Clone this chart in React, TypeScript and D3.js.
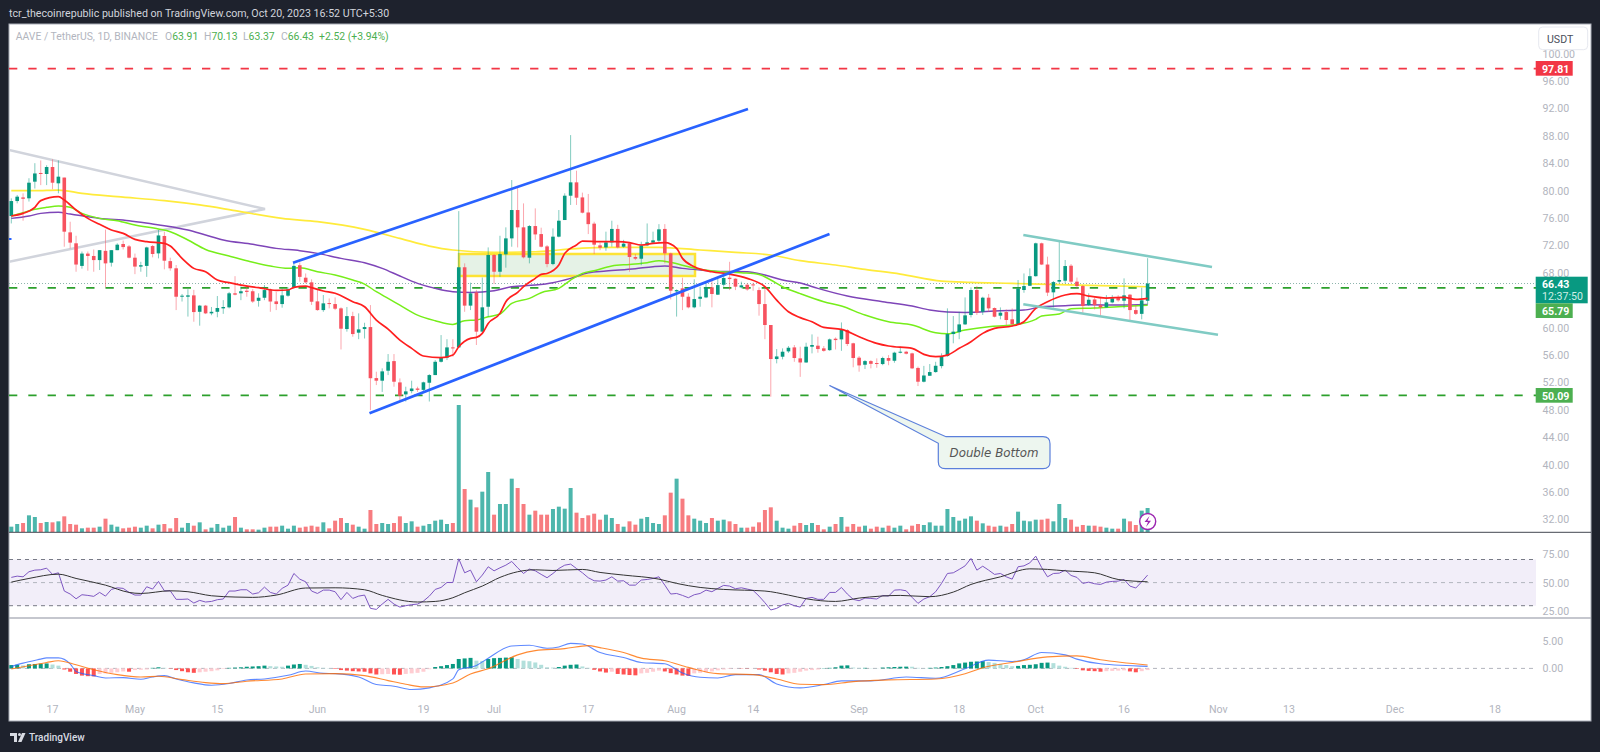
import React, {useRef, useEffect} from 'react';
import * as d3 from 'd3';

const startDay = '2023-04-10';

const opens = [
  76.29,78.47,79.0,78.87,81.3,82.57,82.42,83.44,81.06,81.9,
  73.9,72.3,69.0,70.8,70.45,69.85,71.2,69.47,71.3,72.2,
  71.85,70.2,68.9,69.0,71.9,70.83,73.37,69.7,68.65,64.5,
  64.5,64.7,62.3,63.2,62.07,62.3,62.8,62.95,65.0,65.0,
  65.38,65.3,63.9,64.35,65.57,63.82,63.43,64.65,65.87,69.1,
  67.28,66.6,63.82,62.55,63.58,63.43,62.8,59.78,61.67,59.25,
  59.78,60.07,52.62,52.24,53.7,55.1,51.99,50.24,50.72,51.1,
  50.9,51.94,53.06,55.0,55.6,57.1,57.1,68.8,63.2,65.13,
  59.4,63.04,70.6,68.15,70.69,73.02,77.16,74.63,70.2,74.82,
  73.65,71.85,69.27,73.27,75.7,79.25,81.2,79.0,76.8,75.17,
  72.0,71.7,72.44,74.4,71.8,72.3,70.3,70.05,72.0,72.4,
  72.68,74.4,70.83,65.28,65.72,64.5,62.95,64.2,64.4,65.87,
  64.8,66.25,67.28,67.13,65.87,66.25,66.3,65.47,63.43,60.37,
  55.4,55.74,56.52,57.1,55.5,54.9,57.2,57.35,56.96,56.7,
  58.37,58.27,59.63,57.7,55.6,54.57,55.1,54.82,54.67,55.55,
  55.15,56.33,56.47,56.23,54.1,52.09,52.96,53.5,54.37,55.84,
  59.05,59.33,60.46,61.83,65.48,62.3,64.36,62.85,61.73,62.26,
  61.2,60.5,65.48,66.1,67.5,72.3,69.2,65.14,66.7,66.84,
  69.03,66.7,66.06,63.28,64.1,63.28,62.94,63.67,64.3,63.92,
  64.8,62.55,62.0,63.91,
];
const closes = [
  78.47,79.11,78.8,81.15,82.5,82.42,83.44,81.15,82.03,74.0,
  72.4,69.2,70.8,70.45,69.85,71.3,69.37,71.3,72.1,71.75,
  70.2,68.9,69.1,71.7,70.74,73.45,69.76,68.65,64.5,64.65,
  64.7,62.26,63.2,62.07,62.3,62.85,63.0,65.0,64.8,65.3,
  65.2,63.8,64.35,65.47,63.8,63.43,64.7,65.57,69.0,67.4,
  66.6,63.77,62.55,63.53,63.43,62.75,59.83,61.67,59.05,59.73,
  60.07,52.6,52.24,53.6,55.0,52.09,50.04,50.68,51.1,50.9,
  52.0,53.06,55.0,55.6,57.1,56.96,68.8,63.2,64.99,59.4,
  62.95,70.6,68.15,70.73,73.02,77.16,74.63,70.25,74.82,73.6,
  71.8,69.27,73.27,75.6,79.25,81.2,78.96,76.77,75.1,72.1,
  71.66,72.44,74.4,71.7,72.25,70.3,70.05,72.0,72.44,72.73,
  74.34,70.83,65.38,65.47,64.5,62.95,64.16,64.5,65.87,64.9,
  66.2,67.23,67.08,65.97,66.16,65.57,66.2,63.43,60.37,55.4,
  55.78,56.47,57.05,55.55,54.9,57.2,57.45,56.86,56.6,58.27,
  58.17,59.78,57.6,55.55,54.47,55.1,54.7,54.72,55.55,55.15,
  56.33,56.47,56.18,54.04,52.09,53.0,53.5,54.42,55.84,59.05,
  59.4,60.46,61.78,65.48,62.17,64.36,62.8,61.58,62.17,61.1,
  60.5,65.7,66.06,67.5,72.3,69.2,65.1,66.64,66.94,68.98,
  66.7,66.06,63.14,64.06,63.28,62.94,63.67,64.26,63.97,64.7,
  62.55,62.0,63.97,66.43,
];
const highs = [
  78.87,79.36,79.6,81.8,84.0,84.4,83.7,84.56,84.4,81.9,
  75.45,73.4,71.1,71.1,71.4,71.3,74.3,71.3,72.3,72.7,
  72.05,70.8,69.6,71.8,72.05,74.25,74.0,70.2,69.13,64.9,
  65.6,65.5,63.3,63.3,63.0,64.6,64.0,65.2,67.5,66.0,
  66.0,65.6,65.0,66.2,65.7,65.2,65.7,65.87,69.4,69.5,
  67.9,67.04,65.7,64.75,64.25,64.4,62.95,63.0,62.3,62.07,
  60.7,63.28,53.55,54.04,56.13,56.13,52.57,51.36,52.24,51.36,
  52.1,53.2,55.25,58.9,58.3,58.3,77.0,69.37,66.55,65.5,
  67.3,71.7,70.73,73.4,74.63,81.54,80.57,78.13,74.97,77.4,
  74.58,72.05,74.48,77.16,79.6,88.1,82.9,79.7,79.5,75.45,
  72.4,74.0,75.6,75.0,72.8,72.44,70.73,72.53,75.2,74.0,
  75.1,75.1,70.93,65.57,67.28,65.0,67.04,65.97,66.7,67.18,
  67.18,67.9,69.6,67.18,66.7,66.45,66.55,65.87,65.72,60.37,
  56.86,56.96,57.3,57.45,57.2,57.78,59.0,58.66,57.3,58.4,
  58.56,60.75,59.78,57.78,55.84,55.25,55.25,55.5,55.74,55.98,
  56.47,57.2,56.6,56.33,54.3,54.4,54.67,55.0,56.23,62.8,
  61.68,62.3,64.4,65.87,66.06,64.5,64.9,62.94,62.94,62.65,
  62.8,66.94,67.9,68.64,72.4,72.4,70.35,66.8,72.7,69.86,
  69.27,67.3,66.2,65.0,64.4,64.4,64.74,64.74,64.74,67.18,
  64.9,63.3,65.82,70.13,
];
const lows = [
  75.2,78.14,75.6,78.4,80.3,80.8,80.8,80.2,79.6,71.8,
  71.56,68.15,68.6,68.3,68.15,68.4,65.87,68.9,71.3,71.4,
  70.1,67.8,68.15,67.4,70.25,70.1,68.5,68.3,62.55,63.8,
  61.6,60.85,60.27,61.97,61.8,61.5,62.0,62.8,64.7,64.0,
  64.5,63.6,63.05,64.0,62.3,62.55,62.9,64.5,65.7,66.7,
  66.45,63.3,62.45,62.3,62.8,62.55,56.8,59.4,58.66,58.3,
  58.4,47.95,51.6,50.6,53.06,51.36,49.4,49.2,50.4,50.6,
  50.4,49.2,53.06,54.9,55.25,55.74,57.1,62.3,62.55,57.45,
  59.3,61.6,66.35,67.4,68.74,71.8,71.7,70.1,69.37,72.8,
  71.7,68.8,69.1,73.17,75.7,77.9,77.9,76.67,73.65,70.73,
  71.3,71.2,71.8,71.56,71.66,68.15,69.85,69.1,71.9,72.3,
  72.4,69.37,64.1,61.6,62.55,62.8,62.8,63.04,64.3,62.95,
  64.75,65.97,65.47,65.47,65.72,65.38,65.38,61.73,58.3,49.9,
  54.77,55.35,56.3,55.0,52.8,54.86,56.23,56.33,56.47,56.6,
  56.8,56.6,57.3,54.2,53.55,53.94,54.04,54.13,54.5,54.5,
  54.86,56.23,56.08,53.94,51.46,51.99,52.96,53.4,54.04,55.74,
  57.7,58.3,60.37,61.48,61.83,61.83,62.3,61.48,61.2,60.37,
  60.1,60.5,65.08,66.06,67.43,69.13,64.6,62.94,66.45,66.45,
  66.45,65.72,62.17,63.14,62.65,61.68,62.94,63.53,63.77,62.8,
  61.1,61.83,61.2,63.37,
];
const volumes = [
  16,24,27,50,45,27,30,29,32,47,
  24,22,11,13,13,16,40,22,16,11,
  13,16,13,19,11,22,24,11,42,13,
  27,19,29,8,13,24,13,19,45,13,
  8,8,7,13,16,16,19,10,19,13,
  16,19,16,29,11,34,42,27,22,16,
  10,66,24,27,24,27,47,27,32,16,
  19,24,34,37,24,27,381,129,97,74,
  121,180,52,84,84,160,132,84,52,64,
  52,52,69,76,70,132,58,42,50,55,
  37,52,42,24,16,32,22,40,45,27,
  24,50,118,160,100,50,40,34,27,42,
  34,37,32,24,13,13,16,29,66,74,
  34,13,10,19,27,21,27,21,8,16,
  24,45,16,24,16,19,10,16,13,19,
  13,19,8,19,24,21,29,19,19,69,
  45,34,40,47,34,26,19,16,19,16,
  24,61,34,32,37,37,40,32,84,42,
  37,16,21,19,19,16,13,10,10,40,
  32,21,64,72,
];

// moving averages at these bar numbers
const ema20Bars = [0,2,4,5,8,9,11,13,15,17,19,21,23,26,27,29,31,33,35,37,39,42,45,47,48,50,51,53,55,58,60,62,64,66,68,70,73,75,76,78,79,80,81,83,84,86,87,89,90,91,93,94,96,97,100,103,105,107,109,111,113,114,116,119,122,125,128,130,132,134,136,138,141,144,147,149,153,155,157,159,161,163,165,167,170,172,174,176,179,181,183,186,189,191,193];
const ema20 = [76.29,76.67,77.55,78.53,79.11,78.62,77.16,75.94,75.07,74.24,73.75,72.88,72.54,72.3,71.9,70.1,68.64,68.15,66.94,66.55,66.2,65.82,65.43,65.48,65.87,66.06,65.82,65.33,65.0,63.77,63.04,61.09,59.78,58.17,56.96,55.84,55.6,55.98,57.2,58.42,58.56,59.15,60.6,62.07,63.77,65.13,65.96,67.18,67.76,67.9,69.13,70.83,72.05,72.63,72.54,72.54,72.4,72.05,72.3,72.4,71.56,70.1,68.88,68.15,67.8,67.18,65.96,64.0,62.3,61.45,60.85,60.02,59.73,58.66,57.69,57.3,56.96,56.08,55.74,55.98,56.96,57.93,59.15,59.88,60.22,60.85,62.8,63.77,64.75,64.94,64.6,64.31,64.4,64.11,64.26];
const ema50Bars = [0,2,4,6,8,10,12,15,18,21,25,27,30,33,37,40,44,47,49,52,55,58,60,62,64,66,69,72,75,77,79,81,83,85,88,90,93,95,97,99,102,105,108,110,112,115,117,120,124,127,129,131,134,138,141,145,149,153,157,159,162,166,170,174,175,178,180,184,188,193];
const ema50 = [76.29,76.77,77.26,77.55,77.75,77.55,76.67,75.94,75.6,74.97,74.39,74.0,72.78,71.4,70.44,69.76,68.98,68.64,68.74,68.15,67.67,66.94,66.35,65.23,64.26,63.28,61.82,61.0,60.46,61.0,61.1,61.58,61.97,63.53,64.26,65.09,65.72,66.94,67.91,68.3,68.98,69.22,69.47,69.76,69.52,68.88,68.5,68.2,68.0,67.76,66.94,65.96,64.95,63.77,63.14,61.82,60.85,60.36,59.24,59.1,59.63,60.12,60.36,61.2,61.68,61.97,62.75,62.85,63.04,63.24];
const ema100Bars = [0,3,5,8,10,15,20,24,26,30,33,36,41,45,49,52,56,60,63,66,69,72,75,78,82,85,89,92,95,98,101,106,109,111,114,117,120,125,128,131,134,137,142,148,153,156,159,162,168,172,175,179,183,188,193];
const ema100 = [75.94,76.28,76.67,76.82,76.57,75.94,75.6,75.12,74.87,74.24,73.51,72.78,72.15,71.56,71.22,70.83,70.1,69.47,68.64,67.52,66.45,65.72,65.23,65.13,65.38,65.96,66.2,66.55,67.18,68.0,68.25,68.6,68.88,68.98,68.64,68.4,68.2,68.15,67.67,66.94,66.5,65.72,64.6,63.77,63.14,62.55,62.26,62.21,62.46,62.55,63.04,63.19,63.33,63.28,63.38];
const ema200Bars = [0,4,8,12,18,26,32,38,46,52,60,66,71,75,82,89,93,97,102,110,117,123,129,134,140,145,151,158,163,170,176,185,193];
const ema200 = [79.98,79.98,80.08,79.6,79.11,78.53,77.9,77.07,75.94,75.46,74.34,73.02,71.9,71.32,70.98,71.07,71.32,71.61,71.71,71.71,71.32,70.98,70.59,69.76,69.13,68.49,67.81,66.79,66.6,66.45,66.3,66.11,65.96];

const rsi = [
  54.5,55.6,55.0,59.4,60.8,61.1,62.5,57.1,58.5,42.7,
  40.1,36.0,39.5,38.9,38.1,41.5,38.3,44.1,45.5,45.0,
  41.5,39.2,39.2,46.4,44.4,51.0,42.9,42.9,35.5,35.5,
  35.8,32.3,34.6,33.2,33.7,35.2,35.8,42.7,42.7,43.8,
  43.8,40.1,41.2,46.1,41.5,40.1,45.0,47.8,57.9,53.0,
  50.7,42.7,40.6,43.5,43.5,42.1,35.2,41.5,36.3,38.3,
  39.2,27.7,26.8,31.4,35.5,31.4,28.8,30.0,30.9,31.4,
  34.0,38.3,44.1,45.8,50.1,50.1,70.6,58.5,60.8,50.7,
  56.5,63.7,60.2,62.8,65.1,68.3,62.8,57.9,61.7,60.2,
  57.1,54.2,57.9,62.2,65.1,66.0,62.2,58.5,54.2,51.6,
  51.3,52.2,55.0,51.3,51.6,47.8,47.8,52.2,52.7,53.6,
  55.0,47.8,40.1,40.6,38.9,36.9,39.5,40.6,43.5,42.1,
  45.0,47.6,47.0,44.7,45.5,44.4,43.2,38.3,32.6,26.3,
  27.7,30.6,32.0,30.0,28.8,36.3,37.2,35.5,35.5,41.5,
  41.5,45.8,40.1,35.5,34.3,36.6,36.3,35.8,38.9,38.3,
  43.5,43.8,42.9,37.2,32.0,35.8,37.8,42.1,49.3,57.9,
  58.5,61.4,64.5,70.9,60.8,64.2,60.8,57.1,57.9,55.0,
  53.0,63.7,64.5,67.1,72.9,63.1,55.0,57.9,58.2,60.8,
  56.2,54.5,49.3,50.4,49.0,48.4,50.4,51.0,51.3,52.7,
  47.0,45.3,50.7,56.5,
];
const rsiMaBars = [0,3,8,11,16,20,22,27,30,34,38,41,45,50,55,60,63,69,72,75,77,80,83,86,89,92,97,100,104,110,113,117,121,128,132,135,140,144,151,156,160,163,168,173,176,179,184,188,193];
const rsiMa = [50.4,53.6,57.3,53.6,47.8,41.5,40.6,42.9,42.1,38.6,37.5,37.2,39.2,45.3,45.5,43.8,38.9,33.2,33.7,36.9,41.2,47.0,54.5,59.4,61.1,60.5,61.4,58.8,56.5,53.0,49.3,45.8,44.1,42.7,39.2,36.0,33.7,36.6,38.9,37.8,41.8,48.4,55.0,61.9,61.4,60.2,58.5,52.7,50.7];

const macdBars = [0,2,5,6,8,10,11,14,16,19,22,24,26,28,31,34,37,40,43,47,50,53,55,59,62,65,68,71,75,76,79,81,85,88,91,93,95,97,100,104,107,111,114,117,120,123,127,130,134,138,141,146,152,157,162,166,170,172,175,179,181,185,193];
const macd = [0.36,0.95,1.67,1.9,1.9,0.83,-0.54,-1.31,-1.73,-1.67,-1.96,-1.55,-1.31,-1.9,-2.62,-3.04,-2.74,-2.08,-1.9,-1.25,-0.48,-0.89,-0.95,-1.55,-2.92,-3.21,-3.81,-3.51,-1.9,-0.24,0.54,1.85,4.05,4.17,3.63,3.87,4.52,4.4,2.86,1.96,1.07,0.83,-0.83,-1.61,-1.73,-1.13,-1.13,-2.8,-3.51,-2.92,-2.26,-2.26,-1.55,-1.79,-0.06,1.49,1.25,1.55,2.86,2.44,1.67,0.83,0.36];
const signalBars = [0,3,6,8,11,14,18,22,25,29,33,36,40,46,50,55,60,64,67,70,75,78,81,86,89,94,98,100,104,107,111,115,120,126,130,134,138,143,149,157,162,165,170,176,181,185,193];
const signal = [-0.12,0.48,1.07,1.37,0.65,-0.24,-1.13,-1.55,-1.43,-2.02,-2.56,-2.74,-2.32,-1.9,-1.01,-0.95,-1.31,-2.2,-2.86,-3.33,-2.62,-1.01,-0.06,2.44,3.21,3.57,4.11,3.75,2.86,1.85,1.37,0.18,-0.95,-1.13,-1.9,-2.86,-2.92,-2.38,-2.08,-1.9,-0.95,0.12,1.07,2.08,2.26,1.55,0.6];
const hist = [
  0.6,0.65,0.55,0.75,0.8,0.85,0.9,0.7,0.5,-0.2,
  -0.6,-1.0,-1.3,-1.4,-1.45,-1.0,-0.9,-0.8,-0.7,-0.55,
  -0.6,-0.3,-0.25,-0.2,0.1,0.2,0.1,-0.05,-0.3,-0.5,
  -0.7,-0.8,-0.7,-0.6,-0.5,-0.35,-0.1,0.1,0.15,0.2,
  0.3,0.35,0.4,0.5,0.4,0.35,0.3,0.5,0.7,0.8,
  0.65,0.45,0.2,0.1,0.05,-0.1,-0.3,-0.4,-0.5,-0.55,
  -0.6,-0.9,-1.1,-1.05,-1.0,-1.1,-1.15,-1.0,-0.9,-0.8,
  -0.6,-0.15,0.25,0.4,0.6,0.8,1.7,1.8,1.9,1.4,
  1.35,1.7,1.85,1.9,1.95,2.0,1.7,1.4,1.3,1.07,
  0.65,0.2,0.15,0.25,0.5,0.65,0.7,0.35,0.1,-0.25,
  -0.55,-0.75,-0.6,-1.0,-1.1,-1.2,-1.25,-0.9,-0.8,-0.6,
  -0.4,-0.55,-0.85,-1.1,-1.3,-1.35,-0.9,-0.8,-0.7,-0.55,
  -0.35,-0.2,-0.1,-0.05,-0.05,-0.05,-0.03,-0.2,-0.4,-0.7,
  -1.0,-1.1,-0.9,-0.8,-0.6,-0.4,-0.3,-0.2,0.05,0.1,
  0.2,0.5,0.55,0.15,0.1,0.1,0.05,0.04,0.15,0.2,
  0.25,0.3,0.32,0.3,0.1,0.05,0.1,0.15,0.25,0.4,
  0.6,0.9,1.05,1.2,1.25,1.3,1.15,1.0,0.8,0.6,
  0.4,0.45,0.6,0.65,0.75,1.0,1.05,0.95,0.5,0.3,
  0.1,-0.1,-0.35,-0.45,-0.5,-0.6,-0.5,-0.45,-0.4,-0.35,
  -0.55,-0.7,-0.5,-0.3,
];

const priceTicks = [100,96,92,88,84,80,76,72,68,60,56,52,48,44,40,36,32];
const rsiTicks = [75,50,25];
const macdTicks = [5,0];
const timeTickDates = ['2023-04-17','2023-05-01','2023-05-15','2023-06-01','2023-06-19','2023-07-01','2023-07-17','2023-08-01','2023-08-14','2023-09-01','2023-09-18','2023-10-01','2023-10-16','2023-11-01','2023-11-13','2023-12-01','2023-12-18'];
const timeTickLabels = ['17','May','15','Jun','19','Jul','17','Aug','14','Sep','18','Oct','16','Nov','13','Dec','18'];

const horizontalLevels = [
  {price: 97.81, color: '#f23645'},
  {price: 65.79, color: '#2ca02c'},
  {price: 50.09, color: '#2ca02c'},
];

const font = 'Roboto, Arial, sans-serif';
const up = '#089981';
const down = '#f7525f';

const App: React.FC = () => {
  const ref = useRef<SVGSVGElement | null>(null);

  useEffect(() => {
    if (!ref.current) return;
    const svg = d3.select(ref.current);
    svg.selectAll('*').remove();

    const left = 9, right = 1591, axisLeft = 1536;
    const day = (i: number) => d3.utcDay.offset(new Date(startDay), i);
    const x = d3.scaleUtc().domain([day(0), day(193)]).range([11.3, 1147.6]);
    const xi = (i: number) => x(day(i));
    const y = d3.scaleLinear().domain([96, 32]).range([81, 519.3]);
    const yVol = d3.scaleLinear().domain([0, 381]).range([532, 405]);
    const yRsi = d3.scaleLinear().domain([70, 30]).range([559.5, 605.7]);
    const yMacd = d3.scaleLinear().domain([5, 0]).range([640.7, 668.4]);

    svg.append('rect').attr('width', 1600).attr('height', 752).attr('fill', '#1e222d');
    svg.append('rect').attr('x', left).attr('y', 24).attr('width', right - left).attr('height', 697)
      .attr('fill', '#fff').attr('stroke', '#a9adb8').attr('stroke-width', 1);

    const defs = svg.append('defs');
    defs.append('clipPath').attr('id', 'mainClip').append('rect')
      .attr('x', left).attr('y', 24).attr('width', axisLeft - left).attr('height', 508);
    const main = svg.append('g').attr('clip-path', 'url(#mainClip)');

    // volume
    main.append('g').selectAll('rect').data(volumes).join('rect')
      .attr('x', (d, i) => xi(i) - 2).attr('width', 4)
      .attr('y', d => yVol(d)).attr('height', d => 532 - yVol(d))
      .attr('fill', (d, i) => closes[i] >= opens[i] ? '#4db6ac' : '#f77c80');

    // zone box
    main.append('rect').attr('x', 459).attr('y', y(70.74)).attr('width', 236).attr('height', y(67.53) - y(70.74))
      .attr('fill', '#e5f2e6').attr('stroke', '#fde335').attr('stroke-width', 2.5);

    // level lines
    main.append('line').attr('x1', left).attr('x2', axisLeft).attr('y1', y(66.43)).attr('y2', y(66.43))
      .attr('stroke', '#8fb5ad').attr('stroke-dasharray', '1 2');
    main.selectAll('.level').data(horizontalLevels).join('line').attr('class', 'level')
      .attr('x1', left).attr('x2', axisLeft)
      .attr('y1', d => y(d.price)).attr('y2', d => y(d.price))
      .attr('stroke', d => d.color).attr('stroke-width', 1.6).attr('stroke-dasharray', '8.3 11');

    // triangle on the left
    const triangle = d3.line<number[]>()(([[9, 150], [265, 209], [9, 261.7]]));
    main.append('path').attr('d', triangle).attr('fill', 'none').attr('stroke', '#d1d4dc').attr('stroke-width', 2.5);
    main.append('line').attr('x1', 9).attr('x2', 11.5).attr('y1', 239).attr('y2', 239).attr('stroke', '#2962ff').attr('stroke-width', 2);

    // moving averages
    const avgLine = (bars: number[], vals: number[], color: string, w: number) => {
      const gen = d3.line<number>().x((d, i) => xi(bars[i])).y(d => y(d)).curve(d3.curveMonotoneX);
      main.append('path').attr('d', gen(vals)).attr('fill', 'none').attr('stroke', color).attr('stroke-width', w);
    };
    avgLine(ema200Bars, ema200, '#ffeb3b', 1.7);
    avgLine(ema100Bars, ema100, '#7e45b8', 1.5);
    avgLine(ema50Bars, ema50, '#76ee1a', 1.5);

    // candles
    const candles = main.append('g').selectAll('g').data(opens).join('g');
    candles.append('line')
      .attr('x1', (d, i) => xi(i)).attr('x2', (d, i) => xi(i))
      .attr('y1', (d, i) => y(highs[i])).attr('y2', (d, i) => y(lows[i]))
      .attr('stroke', (d, i) => closes[i] >= d ? up : down).attr('stroke-opacity', 0.5);
    candles.append('rect')
      .attr('x', (d, i) => xi(i) - 1.8).attr('width', 3.6)
      .attr('y', (d, i) => y(Math.max(d, closes[i])))
      .attr('height', (d, i) => Math.max(1, Math.abs(y(d) - y(closes[i]))))
      .attr('fill', (d, i) => closes[i] >= d ? up : down);

    avgLine(ema20Bars, ema20, '#ff1f1f', 1.7);

    // channels
    const drawn = [
      {p: [293, 262.7, 748, 109], color: '#2962ff', w: 2.7},
      {p: [369.5, 413.3, 829.5, 234], color: '#2962ff', w: 2.7},
      {p: [1023.3, 235, 1212, 267], color: '#80cbc4', w: 2.6},
      {p: [1023.3, 304.3, 1218, 334.7], color: '#80cbc4', w: 2.6},
    ];
    main.selectAll('.channel').data(drawn).join('line').attr('class', 'channel')
      .attr('x1', d => d.p[0]).attr('y1', d => d.p[1]).attr('x2', d => d.p[2]).attr('y2', d => d.p[3])
      .attr('stroke', d => d.color).attr('stroke-width', d => d.w);

    // callout
    main.append('path')
      .attr('d', 'M829.5 385.5 L946 436.7 L1043 436.7 Q1050 436.7 1050 443.7 L1050 461.7 Q1050 468.7 1043 468.7 L945.3 468.7 Q938.3 468.7 938.3 461.7 L938.3 443.3 Z')
      .attr('fill', '#edf6ef').attr('stroke', '#5b7fdb').attr('stroke-width', 1.2);
    main.append('text').attr('x', 994).attr('y', 457).attr('text-anchor', 'middle')
      .attr('font-family', '"DejaVu Sans", sans-serif').attr('font-style', 'italic').attr('font-size', 11.8)
      .attr('fill', '#555').text('Double Bottom');

    // lightning badge
    main.append('circle').attr('cx', 1147.7).attr('cy', 521.5).attr('r', 8).attr('fill', '#fff').attr('stroke', '#9c27b0').attr('stroke-width', 1.4);
    main.append('path').attr('d', 'M1149.5 516 L1144.5 522 L1148 522 L1146 527 L1151 520.7 L1147.5 520.7 Z').attr('fill', '#9c27b0');

    // pane separators
    svg.append('line').attr('x1', left).attr('x2', right).attr('y1', 532.3).attr('y2', 532.3).attr('stroke', '#434651');
    svg.append('line').attr('x1', left).attr('x2', right).attr('y1', 618).attr('y2', 618).attr('stroke', '#b2b5be').attr('stroke-width', 1.5);

    // rsi
    svg.append('rect').attr('x', left).attr('width', axisLeft - left).attr('y', yRsi(70)).attr('height', yRsi(30) - yRsi(70)).attr('fill', '#7e57c2').attr('fill-opacity', 0.1);
    [70, 50, 30].forEach(v => {
      svg.append('line').attr('x1', left).attr('x2', axisLeft).attr('y1', yRsi(v)).attr('y2', yRsi(v))
        .attr('stroke', v === 50 ? '#b2b5be' : '#787b86').attr('stroke-dasharray', '4 4');
    });
    const rsiLine = d3.line<number>().x((d, i) => xi(i)).y(d => yRsi(d));
    svg.append('path').attr('d', rsiLine(rsi)).attr('fill', 'none').attr('stroke', '#7e57c2').attr('stroke-width', 1);
    const rsiMaLine = d3.line<number>().x((d, i) => xi(rsiMaBars[i])).y(d => yRsi(d)).curve(d3.curveMonotoneX);
    svg.append('path').attr('d', rsiMaLine(rsiMa)).attr('fill', 'none').attr('stroke', '#333').attr('stroke-width', 1);

    // macd
    svg.append('line').attr('x1', left).attr('x2', axisLeft).attr('y1', yMacd(0)).attr('y2', yMacd(0))
      .attr('stroke', '#b2b5be').attr('stroke-dasharray', '4 4');
    svg.append('g').selectAll('rect').data(hist).join('rect')
      .attr('x', (d, i) => xi(i) - 2).attr('width', 4)
      .attr('y', d => Math.min(yMacd(d), yMacd(0)))
      .attr('height', d => Math.abs(yMacd(d) - yMacd(0)))
      .attr('fill', (d, i) => {
        const prev = i > 0 ? hist[i - 1] : d;
        if (d >= 0) return d >= prev ? '#089981' : '#b2dfdb';
        return d <= prev ? '#ff5252' : '#ffcdd2';
      });
    const macdGen = (bars: number[]) => d3.line<number>().x((d, i) => xi(bars[i])).y(d => yMacd(d)).curve(d3.curveMonotoneX);
    svg.append('path').attr('d', macdGen(macdBars)(macd)).attr('fill', 'none').attr('stroke', '#2962ff').attr('stroke-opacity', 0.75).attr('stroke-width', 1.1);
    svg.append('path').attr('d', macdGen(signalBars)(signal)).attr('fill', 'none').attr('stroke', '#ff6d00').attr('stroke-opacity', 0.8).attr('stroke-width', 1.1);

    // axis labels
    const axisText = (sel: any) => sel.attr('font-family', font).attr('font-size', 10.6).attr('fill', '#b2b5be');
    svg.append('g').selectAll('text').data(priceTicks).join('text').call(axisText)
      .attr('x', 1542.5).attr('y', d => y(d) + 4).text(d => d.toFixed(2));
    svg.append('g').selectAll('text').data(rsiTicks).join('text').call(axisText)
      .attr('x', 1542.5).attr('y', d => yRsi(70) + (70 - d) * 1.155 + 4).text(d => d.toFixed(2));
    svg.append('g').selectAll('text').data(macdTicks).join('text').call(axisText)
      .attr('x', 1542.5).attr('y', d => yMacd(d) + 4).text(d => d.toFixed(2));
    svg.append('g').selectAll('text').data(timeTickDates).join('text').call(axisText)
      .attr('x', d => x(new Date(d))).attr('y', 713).attr('text-anchor', 'middle')
      .text((d, i) => timeTickLabels[i]);

    // price badges
    const badge = (yTop: number, h: number, w: number, color: string) =>
      svg.append('rect').attr('x', 1535.7).attr('y', yTop).attr('width', w).attr('height', h).attr('fill', color);
    const badgeText = (txt: string, yBase: number, weight = 700, color = '#fff') =>
      svg.append('text').attr('x', 1542).attr('y', yBase).attr('font-family', font).attr('font-size', 10.6)
        .attr('font-weight', weight).attr('fill', color).text(txt);
    badge(61, 14.7, 37, '#f23645');
    badgeText('97.81', 72.5);
    badge(276.7, 26.6, 52, '#089981');
    badgeText('66.43', 288);
    badgeText('12:37:50', 300, 400, '#cdeee6');
    badge(303.3, 14.7, 37, '#4caf50');
    badgeText('65.79', 315);
    badge(388, 14.7, 37, '#4caf50');
    badgeText('50.09', 399.5);

    // currency button
    svg.append('rect').attr('x', 1538.7).attr('y', 27).attr('width', 49).attr('height', 22.7).attr('rx', 4)
      .attr('fill', '#fff').attr('stroke', '#e6e8ef');
    svg.append('text').attr('x', 1547).attr('y', 43).attr('font-family', font).attr('font-size', 10.6).attr('fill', '#4a4e5a').text('USDT');

    // header
    svg.append('text').attr('x', 9).attr('y', 17).attr('font-family', font).attr('font-size', 10.65).attr('fill', '#d1d4dc')
      .text('tcr_thecoinrepublic published on TradingView.com, Oct 20, 2023 16:52 UTC+5:30');

    // legend
    const gray = '#b2b5be', green = '#4caf50';
    const legendSize = 10.4;
    svg.append('text').attr('x', 15.7).attr('y', 40).attr('font-family', font).attr('font-size', legendSize).attr('fill', gray)
      .text('AAVE / TetherUS, 1D, BINANCE');
    [['O', '63.91', 165], ['H', '70.13', 204], ['L', '63.37', 243], ['C', '66.43', 281]].forEach(([k, v, px]) => {
      const t = svg.append('text').attr('x', px as number).attr('y', 40).attr('font-family', font).attr('font-size', legendSize);
      t.append('tspan').attr('fill', gray).text(k as string);
      t.append('tspan').attr('fill', green).text(v as string);
    });
    svg.append('text').attr('x', 319).attr('y', 40).attr('font-family', font).attr('font-size', legendSize).attr('fill', green).text('+2.52 (+3.94%)');

    // footer logo
    const logo = svg.append('g').attr('fill', '#d8dbe3');
    logo.append('path').attr('d', 'M10 733 L17 733 L17 742 L14 742 L14 736 L10 736 Z');
    logo.append('circle').attr('cx', 19.5).attr('cy', 734.5).attr('r', 1.5);
    logo.append('path').attr('d', 'M22 733 L25.5 733 L21.5 742 L18 742 Z');
    svg.append('text').attr('x', 29).attr('y', 741).attr('font-family', font).attr('font-size', 10).attr('font-weight', 500)
      .attr('fill', '#d8dbe3').text('TradingView');

    return () => {
      // eslint-disable-next-line react-hooks/exhaustive-deps
      d3.select(ref.current).selectAll('*').remove();
    };
  }, []);

  return <svg ref={ref} width={1600} height={752} style={{position: 'absolute', left: 0, top: 0, display: 'block'}}></svg>;
};

export default App;
